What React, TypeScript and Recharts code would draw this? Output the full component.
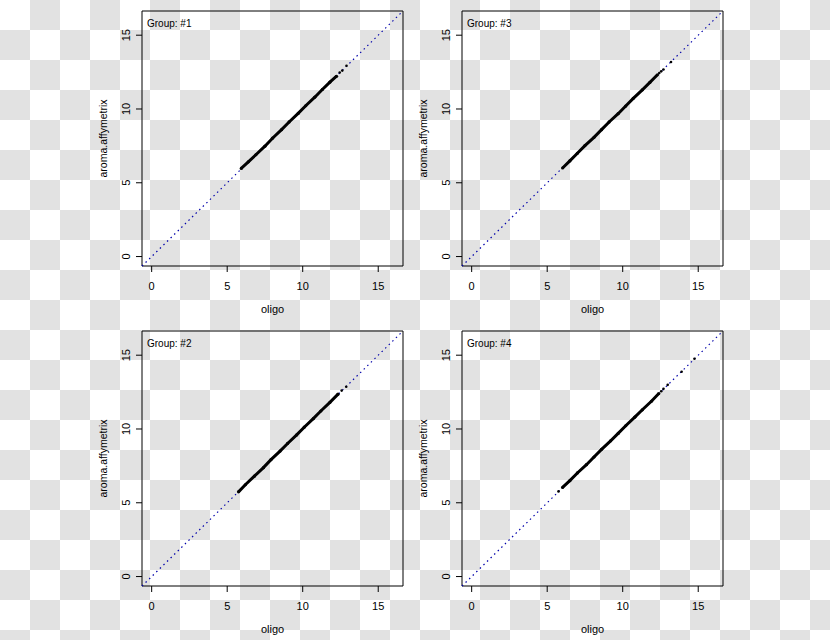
import { ScatterChart, Scatter, XAxis, YAxis, ReferenceArea, ReferenceLine, Label } from 'recharts'

// axis limits (R style, 4% padding around 0..16)
const AXIS_MIN = -0.64
const AXIS_MAX = 16.64
const axisTicks = [0, 5, 10, 15]

// group #1
const g1DenseX = [5.93, 6.4, 6.9, 7.5, 8.0, 8.6, 9.1, 9.7, 10.2, 10.8, 11.3, 11.8, 12.24]
const g1DenseY = [5.97, 6.42, 6.9, 7.48, 8.02, 8.6, 9.12, 9.7, 10.22, 10.8, 11.32, 11.82, 12.22]
const g1OutX = [12.45, 12.62, 12.9]
const g1OutY = [12.47, 12.6, 12.93]

// group #2
const g2DenseX = [5.75, 6.2, 6.8, 7.4, 7.9, 8.5, 9.0, 9.6, 10.1, 10.7, 11.2, 11.8, 12.34]
const g2DenseY = [5.74, 6.22, 6.8, 7.38, 7.92, 8.5, 9.02, 9.6, 10.12, 10.7, 11.22, 11.8, 12.36]
const g2OutX = [12.58, 12.88]
const g2OutY = [12.6, 12.86]

// group #3
const g3DenseX = [6.02, 6.5, 7.0, 7.5, 8.1, 8.6, 9.1, 9.7, 10.2, 10.7, 11.3, 11.8, 12.3]
const g3DenseY = [6.0, 6.48, 7.0, 7.52, 8.08, 8.6, 9.12, 9.68, 10.2, 10.72, 11.3, 11.8, 12.32]
const g3OutX = [12.42, 12.55, 12.7, 13.2]
const g3OutY = [12.44, 12.55, 12.68, 13.18]

// group #4
const g4DenseX = [6.02, 6.5, 7.0, 7.6, 8.1, 8.6, 9.2, 9.7, 10.2, 10.8, 11.3, 11.9, 12.39]
const g4DenseY = [6.04, 6.5, 7.02, 7.58, 8.1, 8.62, 9.2, 9.7, 10.22, 10.8, 11.3, 11.88, 12.4]
const g4OutX = [5.75, 12.55, 12.7, 12.98, 13.9, 14.75]
const g4OutY = [5.77, 12.56, 12.72, 12.99, 13.88, 14.76]

const FONT = '"Liberation Sans", Arial, sans-serif'

const toPoints = (xs: number[], ys: number[]) => xs.map((x, i) => ({ x, y: ys[i] }))

const YTick = (props: any) => {
    const { x, y, payload } = props
    return (
        <text
            x={x}
            y={y}
            transform={`rotate(-90 ${x} ${y})`}
            textAnchor="middle"
            fontSize={11}
            fontFamily={FONT}
            fill="#000"
        >
            {payload.value}
        </text>
    )
}

const Dot = (r: number) => (props: any) => <circle cx={props.cx} cy={props.cy} r={r} fill="#000" />

interface PanelProps {
    left: number
    top: number
    title: string
    dense: Array<{ x: number; y: number }>
    outliers: Array<{ x: number; y: number }>
}

function Panel({ left, top, title, dense, outliers }: PanelProps) {
    return (
        <div style={{ position: 'absolute', left, top }}>
            <ScatterChart width={330} height={320} margin={{ top: 11, right: 17, bottom: 0, left: 0 }}>
                <XAxis
                    type="number"
                    dataKey="x"
                    domain={[AXIS_MIN, AXIS_MAX]}
                    ticks={axisTicks}
                    allowDataOverflow
                    height={54}
                    axisLine={false}
                    tickSize={6}
                    tickMargin={10}
                    tickLine={{ stroke: '#000' }}
                    tick={{ fill: '#000', fontSize: 11, fontFamily: FONT }}
                >
                    <Label value="oligo" position="insideBottom" offset={7} style={{ fontSize: 11, fontFamily: FONT, fill: '#000' }} />
                </XAxis>
                <YAxis
                    type="number"
                    dataKey="y"
                    domain={[AXIS_MIN, AXIS_MAX]}
                    ticks={axisTicks}
                    allowDataOverflow
                    width={52}
                    axisLine={false}
                    tickSize={6}
                    tickMargin={6}
                    tickLine={{ stroke: '#000' }}
                    tick={YTick}
                >
                    <Label
                        value="aroma.affymetrix"
                        angle={-90}
                        position="insideLeft"
                        offset={13.5}
                        style={{ fontSize: 10.5, fontFamily: FONT, fill: '#000', textAnchor: 'middle' }}
                    />
                </YAxis>
                <ReferenceArea
                    x1={AXIS_MIN}
                    x2={AXIS_MAX}
                    y1={AXIS_MIN}
                    y2={AXIS_MAX}
                    fill="none"
                    stroke="#000"
                    strokeWidth={1}
                    fillOpacity={0}
                    label={(p: any) => (
                        <text x={p.viewBox.x + 5} y={p.viewBox.y + 15.5} fontSize={10} fontFamily={FONT} fill="#000">
                            {title}
                        </text>
                    )}
                />
                <ReferenceLine
                    segment={[{ x: AXIS_MIN, y: AXIS_MIN }, { x: AXIS_MAX, y: AXIS_MAX }]}
                    stroke="#0000aa"
                    strokeWidth={1.2}
                    strokeDasharray="1.5 3.5"
                />
                <Scatter
                    data={dense}
                    isAnimationActive={false}
                    line={{ stroke: '#000', strokeWidth: 3 }}
                    shape={Dot(1.6)}
                />
                <Scatter data={outliers} isAnimationActive={false} shape={Dot(1.3)} />
            </ScatterChart>
        </div>
    )
}

export default function App() {
    return (
        <div
            style={{
                position: 'absolute',
                left: 0,
                top: 0,
                width: 830,
                height: 640,
                overflow: 'hidden',
                background: 'repeating-conic-gradient(#e2e2e2 0 25%, #ffffff 0 50%) 0 0 / 60px 60px',
            }}
        >
            <Panel left={90} top={0} title="Group: #1" dense={toPoints(g1DenseX, g1DenseY)} outliers={toPoints(g1OutX, g1OutY)} />
            <Panel left={410} top={0} title="Group: #3" dense={toPoints(g3DenseX, g3DenseY)} outliers={toPoints(g3OutX, g3OutY)} />
            <Panel left={90} top={320} title="Group: #2" dense={toPoints(g2DenseX, g2DenseY)} outliers={toPoints(g2OutX, g2OutY)} />
            <Panel left={410} top={320} title="Group: #4" dense={toPoints(g4DenseX, g4DenseY)} outliers={toPoints(g4OutX, g4OutY)} />
        </div>
    )
}
